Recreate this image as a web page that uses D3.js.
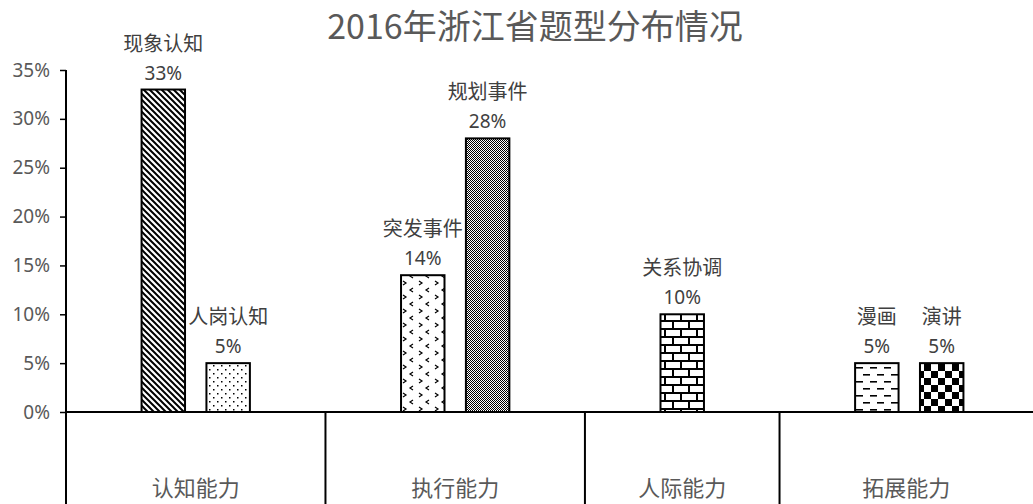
<!DOCTYPE html>
<html>
<head>
<meta charset="utf-8">
<script src="https://cdn.jsdelivr.net/npm/d3@7"></script>
<style>
  body { margin: 0; background: #fff; }
  svg { font-family: "Microsoft YaHei", "Noto Sans CJK SC", sans-serif; }
</style>
</head>
<body>
<div id="container"></div>
<script>
/* DATA */
const groups = ["认知能力", "执行能力", "人际能力", "拓展能力"];
const groupSlots = [4, 4, 3, 4];   // number of category slots per group
const types = ["", "现象认知", "人岗认知", "", "", "突发事件", "规划事件", "", "", "关系协调", "", "", "漫画", "演讲", ""];
const values = [null, 0.33, 0.05, null, null, 0.14, 0.28, null, null, 0.10, null, null, 0.05, 0.05, null];
const patterns = [null, "diag", "dots", null, null, "divot", "fine", null, null, "brick", null, null, "dash", "check", null];
const yTicks = [0, 0.05, 0.10, 0.15, 0.20, 0.25, 0.30, 0.35];

/* CONSTANTS */
const width = 1033, height = 504;
const margin = { top: 70, left: 66, right: -6, bottom: 92 };
const baseY = height - margin.bottom;
const numFont = "'Noto Sans', 'Open Sans', sans-serif";

const svg = d3.select("#container")
  .append("svg")
  .attr("width", width)
  .attr("height", height);

/* PATTERNS */
const defs = svg.append("defs");

function pat(id, w, h) {
  const p = defs.append("pattern")
    .attr("id", id)
    .attr("patternUnits", "userSpaceOnUse")
    .attr("width", w).attr("height", h);
  p.append("rect").attr("width", w).attr("height", h).attr("fill", "#fff");
  return p;
}

// wide downward diagonal
let p = pat("diag", 6, 6);
p.append("path").attr("d", "M-1,-1L7,7M-4,2L2,8M2,-4L8,2")
  .attr("stroke", "#000").attr("stroke-width", 2);

// sparse dots
p = pat("dots", 8, 8);
p.append("rect").attr("x", 1).attr("y", 1).attr("width", 1.5).attr("height", 1.5).attr("fill", "#000");
p.append("rect").attr("x", 5).attr("y", 5).attr("width", 1.5).attr("height", 1.5).attr("fill", "#000");

// divot
p = pat("divot", 16, 14);
p.append("path").attr("d", "M3,1L6,3L3,5").attr("fill", "none").attr("stroke", "#000").attr("stroke-width", 1.2);
p.append("path").attr("d", "M13,8L10,10L13,12").attr("fill", "none").attr("stroke", "#000").attr("stroke-width", 1.2);

// fine checker (50%)
p = pat("fine", 2, 2);
p.append("rect").attr("width", 1).attr("height", 1).attr("fill", "#000");
p.append("rect").attr("x", 1).attr("y", 1).attr("width", 1).attr("height", 1).attr("fill", "#000");

// horizontal brick
p = pat("brick", 16, 16);
p.append("path").attr("d", "M0,1H16M0,9H16M1,1V9M9,9V17")
  .attr("stroke", "#000").attr("stroke-width", 2).attr("fill", "none");

// dashed horizontal
p = pat("dash", 14, 14);
p.append("rect").attr("x", 2).attr("y", 3).attr("width", 7).attr("height", 1.6).attr("fill", "#000");
p.append("rect").attr("x", 9).attr("y", 10).attr("width", 7).attr("height", 1.6).attr("fill", "#000");
p.append("rect").attr("x", -5).attr("y", 10).attr("width", 7).attr("height", 1.6).attr("fill", "#000");

// large checkerboard
p = pat("check", 14, 14);
p.append("rect").attr("width", 7).attr("height", 7).attr("fill", "#000");
p.append("rect").attr("x", 7).attr("y", 7).attr("width", 7).attr("height", 7).attr("fill", "#000");

/* SCALES */
const xScale = d3.scaleBand()
  .domain(d3.range(types.length))
  .range([margin.left, width - margin.right])
  .paddingInner(0.33)
  .paddingOuter(0.165);

const slotScale = d3.scaleLinear()
  .domain([0, types.length])
  .range([margin.left, width - margin.right]);

const yScale = d3.scaleLinear()
  .domain([0, 0.35])
  .range([baseY, margin.top]);

/* TITLE */
svg.append("text")
  .attr("x", 535).attr("y", 39)
  .attr("text-anchor", "middle")
  .attr("fill", "#595959")
  .style("font-size", "34px")
  .text("2016年浙江省题型分布情况");

/* Y AXIS */
const yAxis = d3.axisLeft(yScale)
  .tickValues(yTicks)
  .tickFormat(d3.format(".0%"))
  .tickSize(6)
  .tickPadding(10);

const gy = svg.append("g")
  .attr("transform", `translate(${margin.left},0)`)
  .call(yAxis);
gy.select(".domain").remove();
gy.selectAll("line").attr("stroke", "#000").attr("stroke-width", 1.5);
gy.selectAll("text")
  .attr("fill", "#595959")
  .style("font-size", "19px")
  .style("font-family", numFont);

svg.append("line")
  .attr("x1", margin.left).attr("x2", margin.left)
  .attr("y1", yScale(0.35)).attr("y2", height)
  .attr("stroke", "#000").attr("stroke-width", 2);

/* X AXIS LINE + GROUP DIVIDERS */
svg.append("line")
  .attr("x1", margin.left).attr("x2", width)
  .attr("y1", baseY).attr("y2", baseY)
  .attr("stroke", "#000").attr("stroke-width", 1.8);

const bounds = d3.cumsum(groupSlots);
const groupData = groups.map((g, i) => ({
  name: g,
  start: i === 0 ? 0 : bounds[i - 1],
  end: bounds[i]
}));

svg.selectAll("line.divider")
  .data(groupData.slice(0, -1))
  .join("line")
  .attr("class", "divider")
  .attr("x1", d => slotScale(d.end)).attr("x2", d => slotScale(d.end))
  .attr("y1", baseY).attr("y2", height)
  .attr("stroke", "#000").attr("stroke-width", 2);

svg.selectAll("text.group")
  .data(groupData)
  .join("text")
  .attr("class", "group")
  .attr("x", d => (slotScale(d.start) + Math.min(slotScale(d.end), width)) / 2)
  .attr("y", 496)
  .attr("text-anchor", "middle")
  .attr("fill", "#595959")
  .style("font-size", "22px")
  .text(d => d.name);

/* BARS */
const barData = types.map((t, i) => ({ i, t, v: values[i], p: patterns[i] }))
  .filter(d => d.v != null);

svg.selectAll("rect.bar")
  .data(barData)
  .join("rect")
  .attr("class", "bar")
  .attr("x", d => xScale(d.i))
  .attr("y", d => yScale(d.v))
  .attr("width", xScale.bandwidth())
  .attr("height", d => yScale(0) - yScale(d.v))
  .attr("fill", d => `url(#${d.p})`)
  .attr("stroke", "#000")
  .attr("stroke-width", 2);

/* LABELS */
svg.selectAll("text.name")
  .data(barData)
  .join("text")
  .attr("class", "name")
  .attr("x", d => xScale(d.i) + xScale.bandwidth() / 2)
  .attr("y", d => yScale(d.v) - 39)
  .attr("text-anchor", "middle")
  .attr("fill", "#404040")
  .style("font-size", "20px")
  .text(d => d.t);

svg.selectAll("text.pct")
  .data(barData)
  .join("text")
  .attr("class", "pct")
  .attr("x", d => xScale(d.i) + xScale.bandwidth() / 2)
  .attr("y", d => yScale(d.v) - 10)
  .attr("text-anchor", "middle")
  .attr("fill", "#404040")
  .style("font-size", "19px")
  .style("font-family", numFont)
  .text(d => d3.format(".0%")(d.v));
</script>
</body>
</html>
